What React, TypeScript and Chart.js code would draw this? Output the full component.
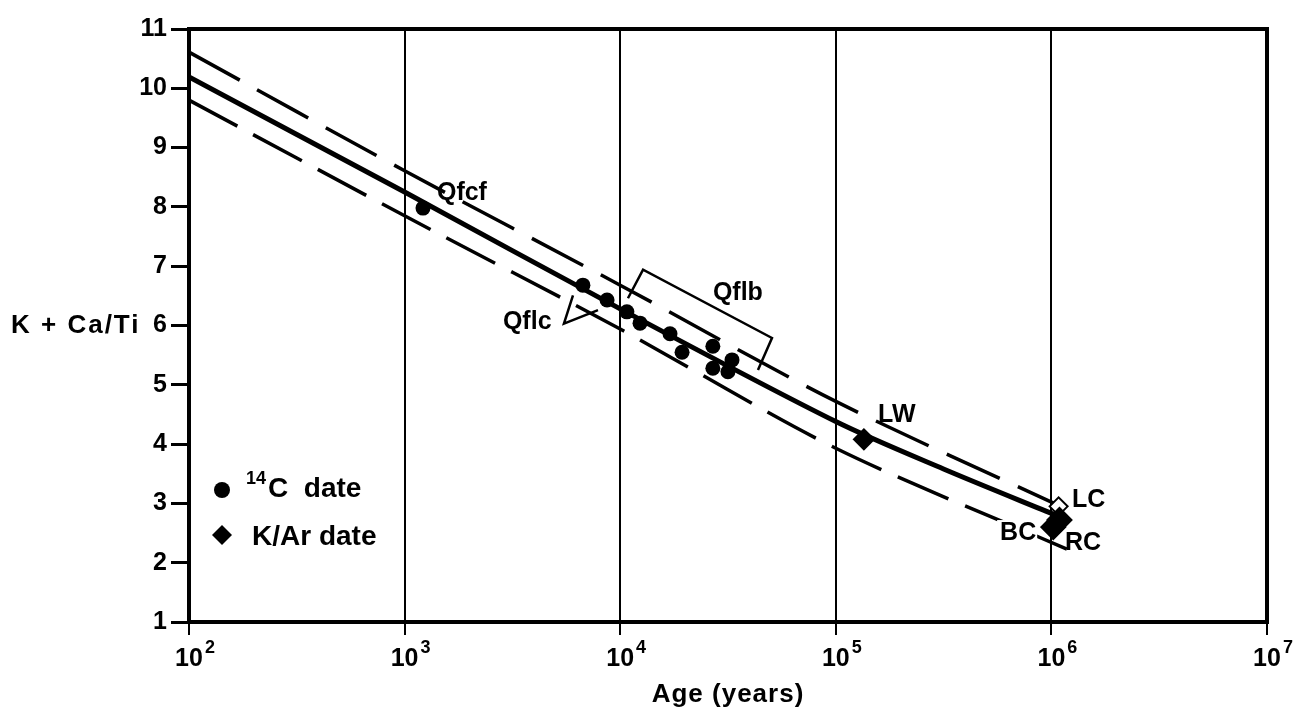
import { useEffect, useRef } from 'react';
import { Chart, registerables } from 'chart.js';

Chart.register(...registerables);

// ---------- data ----------
const xDecades = [100, 1000, 10000, 100000, 1000000, 10000000];
const xExponents = ['2', '3', '4', '5', '6', '7'];
const yTicks = [1, 2, 3, 4, 5, 6, 7, 8, 9, 10, 11];

const curveAges = [100, 1000, 10000, 100000, 316000, 1050000];
const curveValues = [10.19, 8.25, 6.28, 4.38, 3.58, 2.8];

const upperAges = [100, 1000, 10000, 100000, 1150000];
const upperValues = [10.61, 8.61, 6.68, 4.72, 2.92];

const lowerAges = [100, 1000, 10000, 100000, 1180000];
const lowerValues = [9.8, 7.85, 5.94, 3.93, 2.23];

const c14Ages = [1217, 6714, 8690, 10740, 12360, 17020, 19360, 26900, 26900, 33000, 31600];
const c14Values = [7.98, 6.68, 6.43, 6.23, 6.04, 5.86, 5.55, 5.65, 5.28, 5.42, 5.22];

const karNames = ['LC', 'LW', 'BC', 'RC'];
const karAges = [1080000, 135000, 1020000, 1090000];
const karValues = [2.95, 4.08, 2.6, 2.72];

// ---------- annotation layout (log10 age, value) ----------
const FONT = "'Liberation Sans', Arial, Helvetica, sans-serif";
const textNotes = [
  { text: 'Qfcf', lx: 3.15, y: 8.23, bg: false },
  { text: 'Qflc', lx: 3.456, y: 6.06, bg: false },
  { text: 'Qflb', lx: 4.43, y: 6.55, bg: false },
  { text: 'LW', lx: 5.196, y: 4.49, bg: false },
  { text: 'LC', lx: 6.096, y: 3.06, bg: false },
  { text: 'BC', lx: 5.762, y: 2.5, bg: true },
  { text: 'RC', lx: 6.063, y: 2.33, bg: false },
];
const bracketQflb = [
  [4.036, 6.46],
  [4.106, 6.94],
  [4.704, 5.79],
  [4.639, 5.25],
];
const calloutQflc = [
  [3.781, 6.51],
  [3.739, 6.03],
  [3.897, 6.26],
];

const annotationPlugin = {
  id: 'annotations',
  beforeDatasetsDraw(chart: any) {
    const { ctx, chartArea } = chart;
    ctx.save();
    ctx.strokeStyle = '#000';
    ctx.lineWidth = 4;
    ctx.strokeRect(chartArea.left, chartArea.top, chartArea.right - chartArea.left, chartArea.bottom - chartArea.top);
    ctx.restore();
  },
  afterDraw(chart: any) {
    const { ctx, chartArea } = chart;
    const xs = chart.scales.x;
    const ys = chart.scales.y;
    const P = (lx: number, y: number) => [xs.getPixelForValue(Math.pow(10, lx)), ys.getPixelForValue(y)];
    ctx.save();
    ctx.fillStyle = '#000';
    ctx.strokeStyle = '#000';

    // bracket & callout
    ctx.lineWidth = 2.5;
    ctx.lineJoin = 'miter';
    for (const pts of [bracketQflb, calloutQflc]) {
      ctx.beginPath();
      pts.forEach((p, i) => {
        const [a, b] = P(p[0], p[1]);
        if (i === 0) ctx.moveTo(a, b);
        else ctx.lineTo(a, b);
      });
      ctx.stroke();
    }

    // text notes
    ctx.font = `bold 25px ${FONT}`;
    ctx.textBaseline = 'middle';
    ctx.textAlign = 'left';
    for (const n of textNotes) {
      const [a, b] = P(n.lx, n.y);
      if (n.bg) {
        const w = ctx.measureText(n.text).width;
        ctx.fillStyle = '#fff';
        ctx.fillRect(a - 3, b - 13, w + 4, 26);
        ctx.fillStyle = '#000';
      }
      ctx.fillText(n.text, a, b);
    }

    // x tick labels 10^n
    xDecades.forEach((v, i) => {
      const x = xs.getPixelForValue(v);
      ctx.font = `bold 25px ${FONT}`;
      ctx.textAlign = 'center';
      ctx.textBaseline = 'alphabetic';
      const w = ctx.measureText('10').width;
      ctx.fillText('10', x, 666);
      ctx.font = `bold 18px ${FONT}`;
      ctx.textAlign = 'left';
      ctx.fillText(xExponents[i], x + w / 2 + 2, 653);
    });

    // axis titles
    ctx.font = `bold 26px ${FONT}`;
    ctx.textAlign = 'center';
    ctx.textBaseline = 'alphabetic';
    (ctx as any).letterSpacing = '1px';
    ctx.fillText('Age (years)', (chartArea.left + chartArea.right) / 2, 702);
    ctx.textAlign = 'left';
    ctx.textBaseline = 'middle';
    (ctx as any).letterSpacing = '2px';
    ctx.fillText('K + Ca/Ti', 11, ys.getPixelForValue(6));
    (ctx as any).letterSpacing = '0px';

    // legend
    const lx = 222;
    const ly1 = 490;
    const ly2 = 535;
    ctx.beginPath();
    ctx.arc(lx, ly1, 8, 0, Math.PI * 2);
    ctx.fill();
    ctx.beginPath();
    ctx.moveTo(lx, ly2 - 10);
    ctx.lineTo(lx + 10, ly2);
    ctx.lineTo(lx, ly2 + 10);
    ctx.lineTo(lx - 10, ly2);
    ctx.closePath();
    ctx.fill();
    ctx.textAlign = 'left';
    ctx.textBaseline = 'alphabetic';
    ctx.font = `bold 18px ${FONT}`;
    ctx.fillText('14', 246, 484);
    const w14 = ctx.measureText('14').width;
    ctx.font = `bold 28px ${FONT}`;
    ctx.fillText('C  date', 246 + w14 + 2, 497);
    ctx.fillText('K/Ar date', 252, 545);
    ctx.restore();
  },
};

export default function App() {
  const ref = useRef<HTMLCanvasElement | null>(null);
  useEffect(() => {
    if (!ref.current) return;
    const chart = new Chart(ref.current, {
      type: 'scatter',
      data: {
        datasets: [
          {
            type: 'scatter',
            label: 'K/Ar date',
            data: karAges.map((a, i) => ({ x: a, y: karValues[i] })),
            pointStyle: 'rectRot',
            pointRadius: karNames.map((n) => (n === 'LW' ? 10 : n === 'LC' ? 9 : 12)),
            pointBackgroundColor: karNames.map((n) => (n === 'LC' ? '#fff' : '#000')),
            pointBorderColor: '#000',
            pointBorderWidth: 2,
            order: 1,
          } as any,
          {
            type: 'scatter',
            label: '14C date',
            data: c14Ages.map((a, i) => ({ x: a, y: c14Values[i] })),
            pointStyle: 'circle',
            pointRadius: 7.5,
            pointBackgroundColor: '#000',
            pointBorderColor: '#000',
            pointBorderWidth: 0,
            order: 2,
          } as any,
          {
            type: 'line',
            label: 'curve',
            data: curveAges.map((a, i) => ({ x: a, y: curveValues[i] })),
            borderColor: '#000',
            borderWidth: 5,
            pointRadius: 0,
            tension: 0.3,
            fill: false,
            order: 3,
          } as any,
          {
            type: 'line',
            label: 'upper',
            data: upperAges.map((a, i) => ({ x: a, y: upperValues[i] })),
            borderColor: '#000',
            borderWidth: 3.5,
            borderDash: [58, 20],
            pointRadius: 0,
            tension: 0.3,
            fill: false,
            order: 4,
          } as any,
          {
            type: 'line',
            label: 'lower',
            data: lowerAges.map((a, i) => ({ x: a, y: lowerValues[i] })),
            borderColor: '#000',
            borderWidth: 3.5,
            borderDash: [55, 18],
            pointRadius: 0,
            tension: 0.3,
            fill: false,
            order: 5,
          } as any,
        ],
      },
      options: {
        responsive: true,
        maintainAspectRatio: false,
        animation: false,
        layout: { padding: { left: 0, top: 29, right: 38, bottom: 0 } },
        plugins: { legend: { display: false }, tooltip: { enabled: false } },
        scales: {
          x: {
            type: 'logarithmic',
            min: 100,
            max: 10000000,
            afterBuildTicks: (s: any) => {
              s.ticks = xDecades.map((v) => ({ value: v }));
            },
            afterFit: (s: any) => {
              s.height = 94;
            },
            ticks: { display: false },
            grid: { color: '#000', lineWidth: 2, tickLength: 13, drawOnChartArea: true, drawTicks: true },
            border: { display: false },
          },
          y: {
            type: 'linear',
            min: 1,
            max: 11,
            afterBuildTicks: (s: any) => {
              s.ticks = yTicks.map((v) => ({ value: v }));
            },
            afterFit: (s: any) => {
              s.width = 189;
            },
            ticks: { color: '#000', padding: 4, font: { family: FONT, size: 25, weight: 'bold' } },
            grid: { color: '#000', lineWidth: 3, tickLength: 18, drawOnChartArea: false, drawTicks: true },
            border: { display: false },
          },
        },
      } as any,
      plugins: [annotationPlugin],
    });
    return () => chart.destroy();
  }, []);
  return (
    <div style={{ position: 'fixed', left: 0, top: 0, width: 1305, height: 716, background: '#fff' }}>
      <canvas ref={ref} />
    </div>
  );
}
